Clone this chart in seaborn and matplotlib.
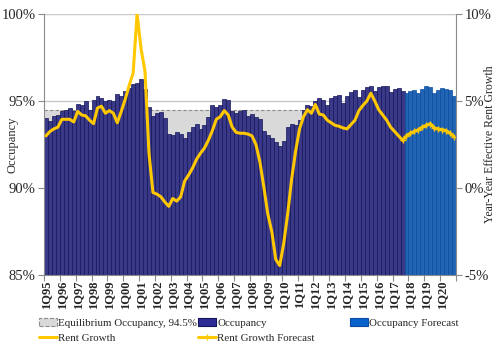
import numpy as np
import pandas as pd
import matplotlib
matplotlib.use("Agg")
import matplotlib.pyplot as plt
from matplotlib.patches import Patch
from matplotlib.lines import Line2D
import seaborn as sns

# -- Data ------------------------------------------------------------------
years = list(range(1995, 2021))
quarters = [f"{q}Q{y % 100:02d}" for y in years for q in range(1, 5)]

EQUILIBRIUM = 94.5

# Occupancy (%), 1Q95 - 3Q17
occupancy_actual = [
    94.05, 93.85, 94.15, 94.2,   94.45, 94.5, 94.6, 94.45,
    94.85, 94.8, 95.0, 94.5,     95.05, 95.3, 95.2, 95.0,
    95.05, 95.0, 95.4, 95.3,     95.55, 95.75, 96.0, 96.05,
    96.25, 95.7, 94.65, 94.15,   94.3, 94.35, 94.0, 93.1,
    93.05, 93.2, 93.1, 92.9,     93.2, 93.5, 93.7, 93.4,
    93.6, 94.1, 94.75, 94.65,    94.75, 95.1, 95.05, 94.45,
    94.3, 94.45, 94.5, 94.15,    94.25, 94.1, 93.95, 93.3,
    93.05, 92.85, 92.65, 92.4,   92.7, 93.5, 93.7, 93.6,
    93.9, 94.5, 94.75, 94.7,     95.0, 95.15, 95.05, 94.8,
    95.2, 95.3, 95.35, 94.9,     95.3, 95.5, 95.65, 95.25,
    95.65, 95.8, 95.85, 95.6,    95.8, 95.85, 95.85, 95.5,
    95.7, 95.75, 95.6,
]
# Occupancy forecast (%), 4Q17 - 4Q20
occupancy_forecast = [
    95.45, 95.55, 95.65, 95.45, 95.7, 95.85, 95.8,
    95.45, 95.65, 95.75, 95.7, 95.65, 95.3,
]

# Year-year effective rent growth (%), 1Q95 - 3Q17
rent_growth = [
    3.0, 3.25, 3.4, 3.5,     3.95, 3.95, 3.95, 3.8,
    4.4, 4.2, 4.15, 3.9,     3.7, 4.6, 4.7, 4.3,
    4.45, 4.3, 3.75, 4.4,    5.1, 5.9, 6.6, 10.0,
    8.0, 6.7, 2.0, -0.25,    -0.35, -0.5, -0.8, -1.05,
    -0.6, -0.75, -0.5, 0.4,  0.75, 1.15, 1.65, 2.0,
    2.3, 2.75, 3.3, 3.95,    4.1, 4.45, 4.2, 3.5,
    3.2, 3.15, 3.15, 3.1,    3.0, 2.5, 1.5, 0.05,
    -1.5, -2.5, -4.1, -4.45, -3.2, -1.5, 0.5, 2.1,
    3.4, 4.1, 4.5, 4.3,      4.8, 4.25, 4.2, 3.9,
    3.75, 3.6, 3.55, 3.45,   3.4, 3.65, 3.9, 4.45,
    4.75, 5.0, 5.45, 5.0,    4.5, 4.2, 3.9, 3.5,
    3.25, 3.0, 2.75,
]
# Rent growth forecast (%), 3Q17 - 4Q20 (joins the last actual quarter)
rent_growth_forecast = [
    2.75, 3.0, 3.15, 3.25, 3.35, 3.5, 3.6, 3.7,
    3.45, 3.4, 3.35, 3.3, 3.15, 2.95,
]

# -- Colours ---------------------------------------------------------------
NAVY, NAVY_EDGE = "#2C2C94", "#14145A"
BLUE, BLUE_EDGE = "#0A62CC", "#0A4CA0"
YELLOW = "#FFC800"
GREY_FILL, GREY_LINE = "#D9D9D9", "#8C8C8C"
AXIS_GREY = "#8C8C8C"

sns.set_theme(style="white")
plt.rcParams["font.family"] = ["Liberation Serif", "DejaVu Serif"]

fig, ax = plt.subplots(figsize=(5, 3.5), dpi=100)
fig.subplots_adjust(left=0.088, right=0.912, top=0.96, bottom=0.214)

# -- Equilibrium band + occupancy bars -------------------------------------
ax.axhspan(85, EQUILIBRIUM, color=GREY_FILL, lw=0, zorder=0.6)
ax.axhline(EQUILIBRIUM, color=GREY_LINE, ls=(0, (3, 2)), lw=0.8, zorder=0.7)

n_act = len(occupancy_actual)
bars = pd.DataFrame({
    "quarter": quarters,
    "occupancy": occupancy_actual + occupancy_forecast,
    "series": ["Occupancy"] * n_act + ["Occupancy Forecast"] * len(occupancy_forecast),
})
sns.barplot(data=bars, x="quarter", y="occupancy", hue="series",
            palette={"Occupancy": NAVY, "Occupancy Forecast": BLUE},
            width=1.0, dodge=False, legend=False, ax=ax, zorder=2,
            linewidth=0.5)
for cont, edge in zip(ax.containers, [NAVY_EDGE, BLUE_EDGE]):
    for patch in cont:
        patch.set_edgecolor(edge)

ax.set_ylim(85, 100)
ax.set_yticks([85, 90, 95, 100])
ax.set_yticklabels([f"{v}%" for v in [85, 90, 95, 100]], fontsize=10.5)
ax.set_xlim(-0.5, len(quarters) - 0.5)
ax.set_xticks(range(0, len(quarters), 4))
ax.set_xticklabels(quarters[::4], rotation=90, fontsize=9, fontweight="bold")
ax.set_xticks(np.arange(-0.5, len(quarters), 4), minor=True)
ax.tick_params(axis="x", which="major", length=0, pad=4)
ax.tick_params(axis="x", which="minor", bottom=True, length=4, width=0.8,
               color=AXIS_GREY)
ax.tick_params(axis="y", left=True, length=4, width=0.8, color=AXIS_GREY, pad=2)
ax.set_xlabel("")
ax.set_ylabel("Occupancy", fontsize=9)
ax.yaxis.set_label_coords(-0.063, 0.5)
ax.grid(axis="y", color="#C8C8C8", lw=1)
ax.set_axisbelow(True)
for side in ["top", "right"]:
    ax.spines[side].set_visible(False)
for side in ["left", "bottom"]:
    ax.spines[side].set_color(AXIS_GREY)
    ax.spines[side].set_linewidth(0.8)

# -- Rent growth on the right axis -----------------------------------------
ax2 = ax.twinx()
sns.lineplot(x=np.arange(n_act), y=rent_growth, color=YELLOW, lw=2.2, ax=ax2)
sns.lineplot(x=np.arange(n_act - 1, n_act - 1 + len(rent_growth_forecast)),
             y=rent_growth_forecast, color=YELLOW, lw=2.2, marker="+",
             markersize=4, markeredgewidth=1, markeredgecolor=YELLOW, ax=ax2)
ax2.set_ylim(-5, 10)
ax2.set_yticks([-5, 0, 5, 10])
ax2.set_yticklabels([f"{v}%" for v in [-5, 0, 5, 10]], fontsize=10.5)
ax2.tick_params(axis="y", right=True, length=4, width=0.8, color=AXIS_GREY, pad=2)
ax2.grid(False)
ax2.set_ylabel("Year-Year Effective Rent Growth", fontsize=8.5)
ax2.yaxis.set_label_coords(1.068, 0.5)
for side in ["top", "left", "bottom"]:
    ax2.spines[side].set_visible(False)
ax2.spines["right"].set_color(AXIS_GREY)
ax2.spines["right"].set_linewidth(0.8)

# -- Legend: three columns placed like the original ---------------------------
eq_patch = Patch(facecolor=GREY_FILL, edgecolor=GREY_LINE, linestyle="--", lw=0.8)
occ_patch = Patch(facecolor=NAVY, edgecolor=NAVY_EDGE, lw=0.8)
fc_patch = Patch(facecolor=BLUE, edgecolor=BLUE_EDGE, lw=0.8)
rent_line = Line2D([], [], color=YELLOW, lw=2.2)
rent_fc_line = Line2D([], [], color=YELLOW, lw=2.2, marker="+", markersize=5,
                      markeredgewidth=1)

legend_cols = [
    (0.078, [eq_patch, rent_line], ["Equilibrium Occupancy, 94.5%", "Rent Growth"]),
    (0.396, [occ_patch, rent_fc_line], ["Occupancy", "Rent Growth Forecast"]),
    (0.700, [fc_patch], ["Occupancy Forecast"]),
]
for x0, h, lab in legend_cols:
    fig.legend(h, lab, loc="upper left", bbox_to_anchor=(x0, 0.092),
               frameon=False, fontsize=7.9, handlelength=1.6,
               handleheight=0.8, handletextpad=0.15, labelspacing=0.5,
               borderaxespad=0, borderpad=0)

fig.savefig("out.png", dpi=100)
